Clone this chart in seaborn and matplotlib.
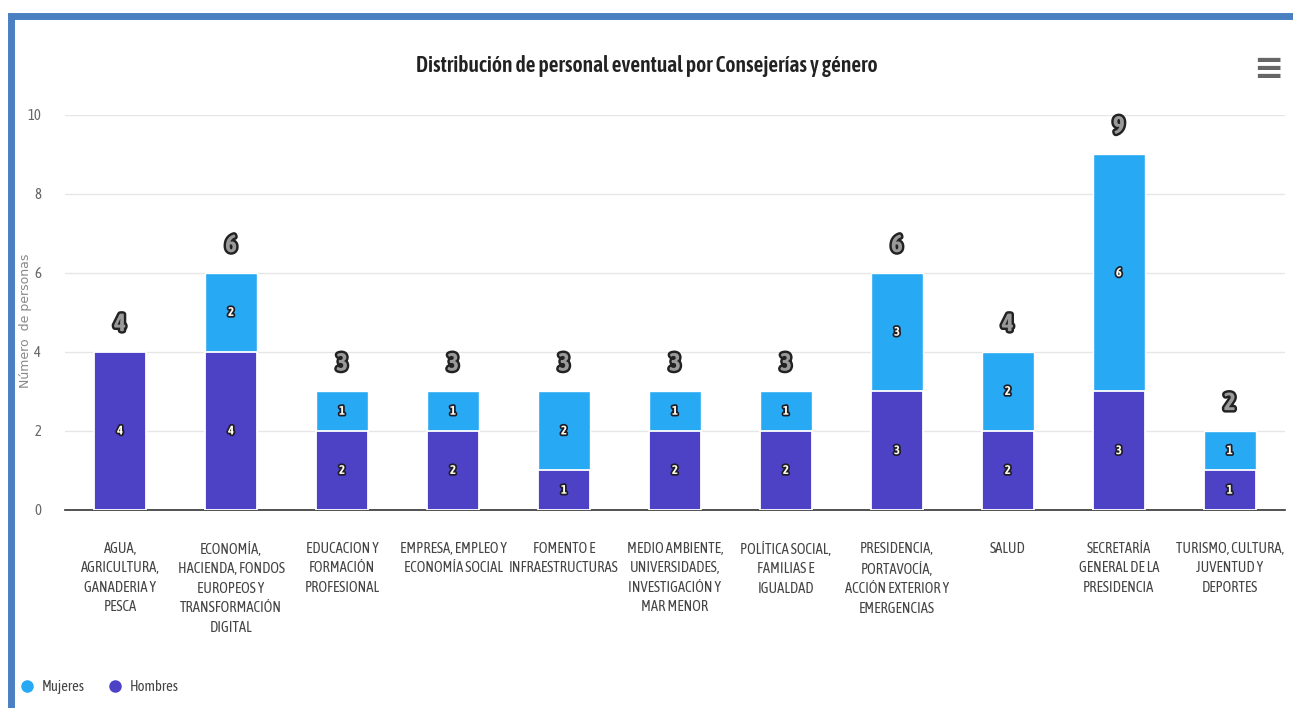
import matplotlib
matplotlib.use("Agg")
import matplotlib.pyplot as plt
import matplotlib.patheffects as pe
from matplotlib.lines import Line2D
from matplotlib.patches import Rectangle
import pandas as pd
import seaborn as sns

categorias = [
    "AGUA,\nAGRICULTURA,\nGANADERIA Y\nPESCA",
    "ECONOMÍA,\nHACIENDA, FONDOS\nEUROPEOS Y\nTRANSFORMACIÓN\nDIGITAL",
    "EDUCACION Y\nFORMACIÓN\nPROFESIONAL",
    "EMPRESA, EMPLEO Y\nECONOMÍA SOCIAL",
    "FOMENTO E\nINFRAESTRUCTURAS",
    "MEDIO AMBIENTE,\nUNIVERSIDADES,\nINVESTIGACIÓN Y\nMAR MENOR",
    "POLÍTICA SOCIAL,\nFAMILIAS E\nIGUALDAD",
    "PRESIDENCIA,\nPORTAVOCÍA,\nACCIÓN EXTERIOR Y\nEMERGENCIAS",
    "SALUD",
    "SECRETARÍA\nGENERAL DE LA\nPRESIDENCIA",
    "TURISMO, CULTURA,\nJUVENTUD Y\nDEPORTES",
]
hombres = [4, 4, 2, 2, 1, 2, 2, 3, 2, 3, 1]
mujeres = [0, 2, 1, 1, 2, 1, 1, 3, 2, 6, 1]
y_ticks = [0, 2, 4, 6, 8, 10]

color_hombres = "#4d41c6"
color_mujeres = "#27a9f3"
gris = "#666666"

sns.set_theme(style="white")
cond = ["Asap Condensed", "Barlow Semi Condensed", "DejaVu Sans"]
plt.rcParams["font.family"] = cond

df = pd.DataFrame({
    "categoria": categorias,
    "hombres": hombres,
    "mujeres": mujeres,
})
df["total"] = df["hombres"] + df["mujeres"]

fig = plt.figure(figsize=(12.93, 7.08), dpi=100)
ax = fig.add_axes([0.050, 0.2797, 0.944, 0.558])

# stacked bars: total (mujeres on top) then hombres over it
sns.barplot(data=df, x="categoria", y="total", color=color_mujeres,
            saturation=1, width=0.47, ax=ax, zorder=2)
sns.barplot(data=df, x="categoria", y="hombres", color=color_hombres,
            saturation=1, width=0.47, ax=ax, edgecolor="white",
            linewidth=1.3, zorder=3)

ax.set_ylim(0, 10)
ax.set_xlim(-0.5, len(categorias) - 0.5)
ax.set_yticks(y_ticks)
ax.set_yticklabels([str(t) for t in y_ticks], color=gris, fontsize=10.5)
ax.tick_params(axis="y", length=0, pad=17)
ax.tick_params(axis="x", length=0, pad=23)
ax.set_xticks(range(len(categorias)))
ax.set_xticklabels(categorias, fontsize=10.5, color="#444444",
                   linespacing=1.5, va="top")
for y in y_ticks[1:]:
    ax.axhline(y, color="#e6e6e6", lw=1, zorder=0)
for s in ["top", "right", "left"]:
    ax.spines[s].set_visible(False)
ax.spines["bottom"].set_color("#333333")
ax.spines["bottom"].set_linewidth(1.2)
ax.set_xlabel("")
ax.set_ylabel("Número  de personas", color="#888888", fontsize=9,
              family=["DejaVu Sans"])
ax.yaxis.set_label_coords(-0.027, 0.48)

stroke_in = [pe.withStroke(linewidth=2.5, foreground="#1e1e2a")]
stroke_tot = [pe.withStroke(linewidth=3.5, foreground="#222222")]
for i, (h, m) in enumerate(zip(hombres, mujeres)):
    if h > 0:
        ax.text(i, h / 2, str(h), ha="center", va="center", fontsize=9,
                fontweight="bold", color="#fffbe8", path_effects=stroke_in,
                zorder=5)
    if m > 0:
        ax.text(i, h + m / 2, str(m), ha="center", va="center", fontsize=9,
                fontweight="bold", color="#fffbe8", path_effects=stroke_in,
                zorder=5)
    ax.text(i, h + m + 0.4, str(h + m), ha="center", va="bottom",
            fontsize=18, fontweight="bold", color="#9a9a9a",
            path_effects=stroke_tot, zorder=5)

fig.text(0.5, 0.907, "Distribución de personal eventual por Consejerías y género",
         ha="center", va="center", fontsize=15.5, fontweight="semibold",
         color="#222222")
fig.text(0.981, 0.903, "≡", ha="center", va="center", fontsize=26,
         fontweight="bold", color="#666666", family=["DejaVu Sans"])

handles = [
    Line2D([], [], marker="o", ls="", color=color_mujeres, markersize=8),
    Line2D([], [], marker="o", ls="", color=color_hombres, markersize=8),
]
fig.legend(handles, ["Mujeres", "Hombres"], loc="center left",
           bbox_to_anchor=(0.004, 0.030), ncol=2, frameon=False,
           fontsize=10.5, handletextpad=0.4, columnspacing=1.5,
           handlelength=1.2, labelcolor="#444444")

# blue frame of the screenshot
fig.add_artist(Rectangle((0.0085, -0.05), 1.2, 1.027, transform=fig.transFigure,
                         fill=False, edgecolor="#4a7fc1", linewidth=5))

fig.savefig("out.png", dpi=100)
